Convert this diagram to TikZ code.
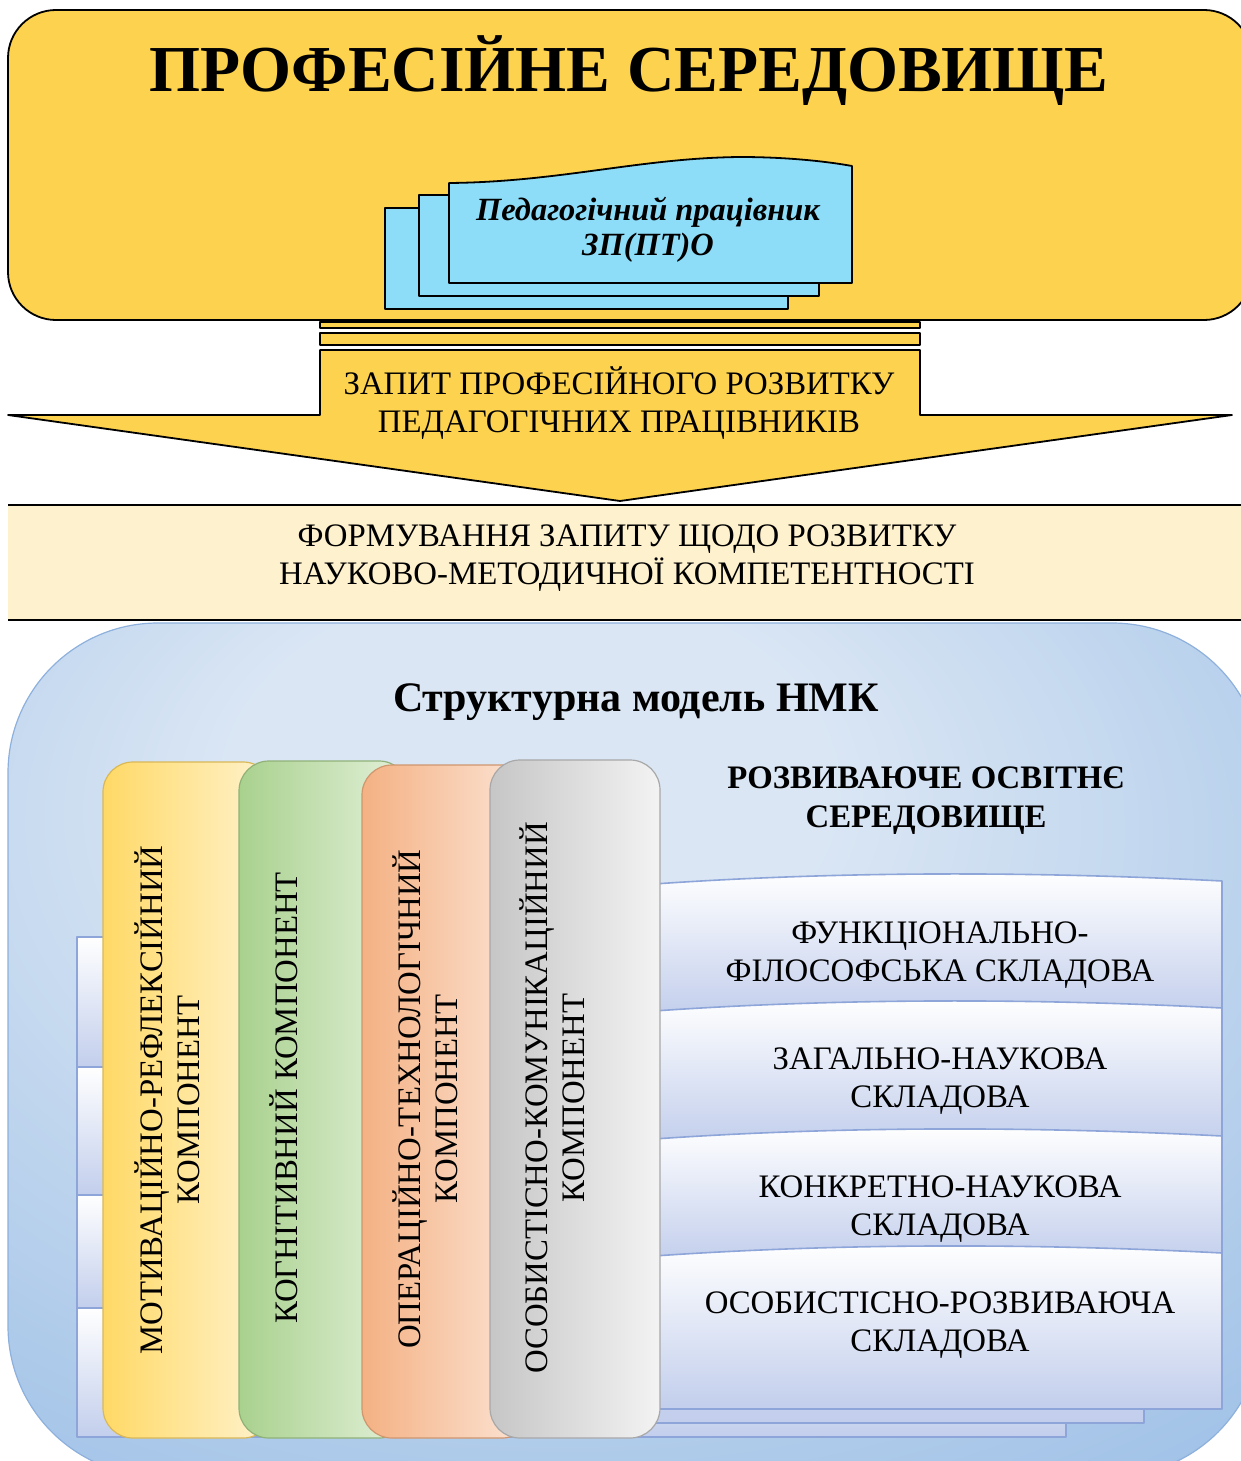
\documentclass[tikz,border=0pt]{standalone}
\usepackage{fontspec}
\setmainfont{Liberation Serif}
\usepackage{xcolor}
\definecolor{envyellow}{HTML}{FCD24F}
\definecolor{doccyan}{HTML}{8EDDF8}
\definecolor{reqbeige}{HTML}{FEF1CD}
\definecolor{modellight}{HTML}{DAE6F4}
\definecolor{modelblue}{HTML}{9CBFE6}
\definecolor{modeledge}{HTML}{8DB0DC}
\definecolor{bandline}{HTML}{8DA5D9}
\definecolor{bandblue}{HTML}{C2CEEC}
\definecolor{mrgold}{HTML}{FFD966}
\definecolor{mrlight}{HTML}{FFF3D0}
\definecolor{cogreen}{HTML}{A9D18E}
\definecolor{colight}{HTML}{E4F1DB}
\definecolor{opsalmon}{HTML}{F4B183}
\definecolor{oplight}{HTML}{FCE6D8}
\definecolor{osgray}{HTML}{C6C6C6}
\definecolor{oslight}{HTML}{F3F3F3}
\pgfdeclareradialshading{modelglow}{\pgfpoint{-5bp}{18bp}}{color(0bp)=(modellight); color(12bp)=(modellight); color(44bp)=(modelblue); color(80bp)=(modelblue)}
\def\colwidth{170}

\begin{document}
\begin{tikzpicture}[x=0.5pt,y=-0.5pt,line join=round]
    \tikzstyle{envshape}=[draw=black, line width=0.9pt, fill=envyellow]
    \tikzstyle{docsheet}=[draw=black, line width=0.9pt, fill=doccyan]
    \tikzstyle{txt}=[font=\fontsize{16.4}{18.7}\selectfont, align=center, inner sep=0pt]
    \tikzstyle{btxt}=[font=\fontsize{16.4}{19.5}\selectfont\bfseries, align=center, inner sep=0pt]
    \tikzstyle{band}=[draw=bandline, line width=0.8pt, top color=white, bottom color=bandblue]
    \tikzset{column/.style 2 args={draw=#1!85!black, line width=0.6pt, rounded corners=15pt, left color=#1, right color=#2}}

    \useasboundingbox (0,0) rectangle (1241,1461);

    % professional environment
    \draw[envshape, rounded corners=24pt] (8,10) rectangle (1252,320);
    \node[font=\fontsize{32.8}{36}\selectfont\bfseries, inner sep=0pt] (env) at (629,71) {ПРОФЕСІЙНЕ СЕРЕДОВИЩЕ};
    \draw[docsheet] (385,208) rectangle (788,309);
    \draw[docsheet] (419,195) rectangle (819,296);
    \draw[docsheet] (449,183) .. controls (560,182) and (640,158) .. (740,157) .. controls (790,157) and (830,162) .. (852,166) -- (852,283) -- (449,283) -- cycle;
    \node[btxt, font=\fontsize{16.2}{17.5}\selectfont\bfseries\itshape] (teacher) at (648,230) {Педагогічний працівник\\ЗП(ПТ)О};

    % request arrow
    \draw[envshape] (320,322) rectangle (920,328);
    \draw[envshape] (320,333) rectangle (920,345);
    \draw[envshape] (320,350) -- (920,350) -- (920,415) -- (1232,415) -- (620,501) -- (8,415) -- (320,415) -- cycle;
    \node[txt] (request) at (619,403) {ЗАПИТ ПРОФЕСІЙНОГО РОЗВИТКУ\\ПЕДАГОГІЧНИХ ПРАЦІВНИКІВ};

    \fill[reqbeige] (8,505) rectangle (1241,620);
    \draw[line width=0.9pt] (8,505) -- (1241,505) (8,620) -- (1241,620);
    \node[txt] (forming) at (627,558) {ФОРМУВАННЯ ЗАПИТУ ЩОДО РОЗВИТКУ\\НАУКОВО-МЕТОДИЧНОЇ КОМПЕТЕНТНОСТІ};

    % structural model
    \draw[draw=modeledge, line width=0.6pt, shading=modelglow, rounded corners=75pt] (8,623) rectangle (1262,1476);
    \node[font=\fontsize{21}{24}\selectfont\bfseries, inner sep=0pt] (model) at (636,702) {Структурна модель НМК};
    \node[btxt] (devenv) at (926,801) {РОЗВИВАЮЧЕ ОСВІТНЄ\\СЕРЕДОВИЩЕ};

    \foreach \ya/\yb in {937/1067, 1067/1195, 1195/1308, 1308/1437}
        \draw[band] (77,\ya) rectangle (1066,\yb);
    \draw[band, top color=bandblue!70] (120,1300) rectangle (1144,1423);
    \foreach \ya/\yb in {885/1017, 1012/1145, 1140/1262, 1257/1409}
        \draw[band] (640,\ya) .. controls (830,\ya-14) and (1030,\ya-14) .. (1222,\ya-4) -- (1222,\yb) -- (640,\yb) -- cycle;

    \node[txt] (funcphil) at (940,955) {ФУНКЦІОНАЛЬНО-\\ФІЛОСОФСЬКА СКЛАДОВА};
    \node[txt] (general) at (940,1081) {ЗАГАЛЬНО-НАУКОВА\\СКЛАДОВА};
    \node[txt] (concrete) at (940,1209) {КОНКРЕТНО-НАУКОВА\\СКЛАДОВА};
    \node[txt] (personal) at (940,1325) {ОСОБИСТІСНО-РОЗВИВАЮЧА\\СКЛАДОВА};

    % components
    \draw[column={mrgold}{mrlight}] (103,762) rectangle ++(\colwidth,676);
    \draw[column={cogreen}{colight}] (239,761) rectangle ++(\colwidth,677);
    \draw[column={opsalmon}{oplight}] (362,765) rectangle ++(\colwidth,673);
    \draw[column={osgray}{oslight}] (490,760) rectangle ++(\colwidth,678);

    \node[txt, rotate=90] (motiv) at (167,1100) {МОТИВАЦІЙНО-РЕФЛЕКСІЙНИЙ\\КОМПОНЕНТ};
    \node[txt, rotate=90] (cogn) at (284,1098) {КОГНІТИВНИЙ КОМПОНЕНТ};
    \node[txt, rotate=90] (oper) at (425,1099) {ОПЕРАЦІЙНО-ТЕХНОЛОГІЧНИЙ\\КОМПОНЕНТ};
    \node[txt, rotate=90] (commun) at (552,1098) {ОСОБИСТІСНО-КОМУНІКАЦІЙНИЙ\\КОМПОНЕНТ};
\end{tikzpicture}
\end{document}
